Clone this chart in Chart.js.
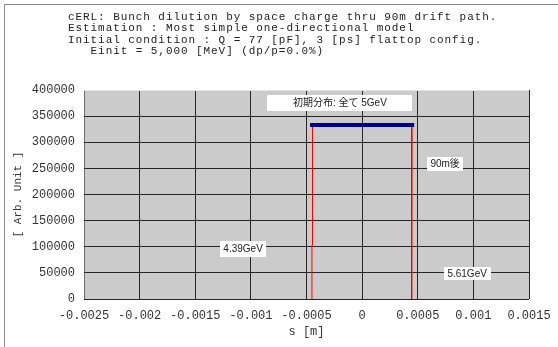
<!DOCTYPE html>
<html>
<head>
<meta charset="utf-8">
<script src="https://cdn.jsdelivr.net/npm/chart.js@4/dist/chart.umd.min.js"></script>
<style>
  html, body { margin: 0; padding: 0; background: #fff; }
  #wrap { position: relative; width: 558px; height: 347px; overflow: hidden; }
  #frame { position: absolute; left: 4px; top: 4px; width: 600px; height: 400px;
           border-left: 1px solid #8a8a8a; border-top: 1px solid #8a8a8a; pointer-events: none; }
</style>
</head>
<body>
<div id="wrap">
  <canvas id="dilution" width="558" height="347"></canvas>
  <div id="frame"></div>
</div>
<script>
// header lines above the plot
const headerLines = [
  'cERL: Bunch dilution by space charge thru 90m drift path.',
  'Estimation : Most simple one-directional model',
  'Initial condition : Q = 77 [pF], 3 [ps] flattop config.',
  '   Einit = 5,000 [MeV] (dp/p=0.0%)'
];

// axis ticks
const sTicks = [-0.0025, -0.002, -0.0015, -0.001, -0.0005, 0, 0.0005, 0.001, 0.0015];
const countTicks = [0, 50000, 100000, 150000, 200000, 250000, 300000, 350000, 400000];

// initial flattop distribution (all 5 GeV)
const initS = [-0.00045, 0.00045];
const initCount = [333000, 333000];

// distribution after the 90 m drift
const driftS = [-0.000451, -0.000451, -0.000446, -0.000446, 0.000448, 0.000448, 0.000444, 0.000444];
const driftCount = [0, 103000, 103000, 333000, 333000, 268000, 268000, 0];

// text notes on the plot
const noteText = ['初期分布: 全て 5GeV', '90m後', '4.39GeV', '5.61GeV'];
const noteS = [-0.0002, 0.000746, -0.00107, 0.000944];
const noteCount = [375000, 258000, 96000, 48000];

const toPoints = (xs, ys) => xs.map((x, i) => ({ x: x, y: ys[i] }));

const mono = '"Liberation Mono", "DejaVu Sans Mono", monospace';

const plotBackground = {
  id: 'plotBackground',
  beforeDraw(chart) {
    const { ctx, chartArea: a } = chart;
    ctx.save();
    ctx.fillStyle = '#cbcbcb';
    ctx.fillRect(a.left, a.top, a.right - a.left, a.bottom - a.top);
    ctx.restore();
  }
};

const header = {
  id: 'header',
  afterDraw(chart) {
    const ctx = chart.ctx;
    ctx.save();
    ctx.font = '11px ' + mono;
    ctx.letterSpacing = '0.93px';
    ctx.fillStyle = '#222';
    ctx.textBaseline = 'middle';
    headerLines.forEach((t, i) => ctx.fillText(t, 68, 17 + i * 11.3));
    ctx.restore();
  }
};

const notes = {
  id: 'notes',
  afterDatasetsDraw(chart, args, opts) {
    const { ctx, scales: { x, y } } = chart;
    ctx.save();
    ctx.font = '10px "Liberation Sans", "Noto Sans CJK JP", sans-serif';
    ctx.textAlign = 'center';
    ctx.textBaseline = 'middle';
    noteText.forEach((t, i) => {
      const px = x.getPixelForValue(noteS[i]);
      const py = y.getPixelForValue(noteCount[i]);
      const [w, h] = opts.boxes[i];
      ctx.fillStyle = '#fff';
      ctx.fillRect(Math.round(px - w / 2), Math.round(py - h / 2), w, h);
      ctx.fillStyle = '#222';
      ctx.fillText(t, px, py + 0.5);
    });
    ctx.restore();
  }
};

new Chart(document.getElementById('dilution'), {
  type: 'line',
  data: {
    datasets: [
      {
        label: 'initial',
        data: toPoints(initS, initCount),
        borderColor: '#00008c',
        borderWidth: 4,
        borderCapStyle: 'square',
        pointRadius: 0
      },
      {
        label: '90m',
        data: toPoints(driftS, driftCount),
        borderColor: '#ff0000',
        borderWidth: 1,
        pointRadius: 0
      }
    ]
  },
  options: {
    responsive: false,
    animation: false,
    layout: { padding: { left: 4, top: 90, right: 29, bottom: 0 } },
    plugins: {
      legend: { display: false },
      tooltip: { enabled: false },
      notes: { boxes: [[145, 16], [36, 14], [46, 16], [47, 13]] }
    },
    scales: {
      x: {
        type: 'linear',
        min: -0.0025,
        max: 0.0015,
        afterBuildTicks: s => { s.ticks = sTicks.map(v => ({ value: v })); },
        afterFit: s => {
          s.height = 48;
          // edge labels fit in the layout padding already
          s.paddingLeft = 0;
          s.paddingRight = 0;
        },
        border: { display: false },
        grid: {
          drawTicks: false,
          color: c => c.tick && c.tick.value === -0.0025 ? '#6e6e6e' : '#262626'
        },
        ticks: {
          padding: 10,
          maxRotation: 0,
          autoSkip: false,
          color: '#333',
          font: { family: mono, size: 12 },
          callback: v => String(parseFloat(Number(v).toFixed(4)))
        },
        title: {
          display: true,
          text: 's [m]',
          color: '#333',
          padding: { top: 0, bottom: 8 },
          font: { family: mono, size: 12 }
        }
      },
      y: {
        min: 0,
        max: 400000,
        afterBuildTicks: s => { s.ticks = countTicks.map(v => ({ value: v })); },
        afterFit: s => { s.width = 80; },
        border: { display: false },
        grid: {
          drawTicks: false,
          color: c => c.tick && c.tick.value === 400000 ? '#e2e2e2' : '#262626'
        },
        ticks: {
          padding: 9,
          color: '#333',
          font: { family: mono, size: 12 },
          callback: v => String(v)
        },
        title: {
          display: true,
          text: '[ Arb. Unit ]',
          color: '#333',
          padding: { top: 7, bottom: 0 },
          font: { family: mono, size: 11 }
        }
      }
    }
  },
  plugins: [plotBackground, header, notes]
});
</script>
</body>
</html>
